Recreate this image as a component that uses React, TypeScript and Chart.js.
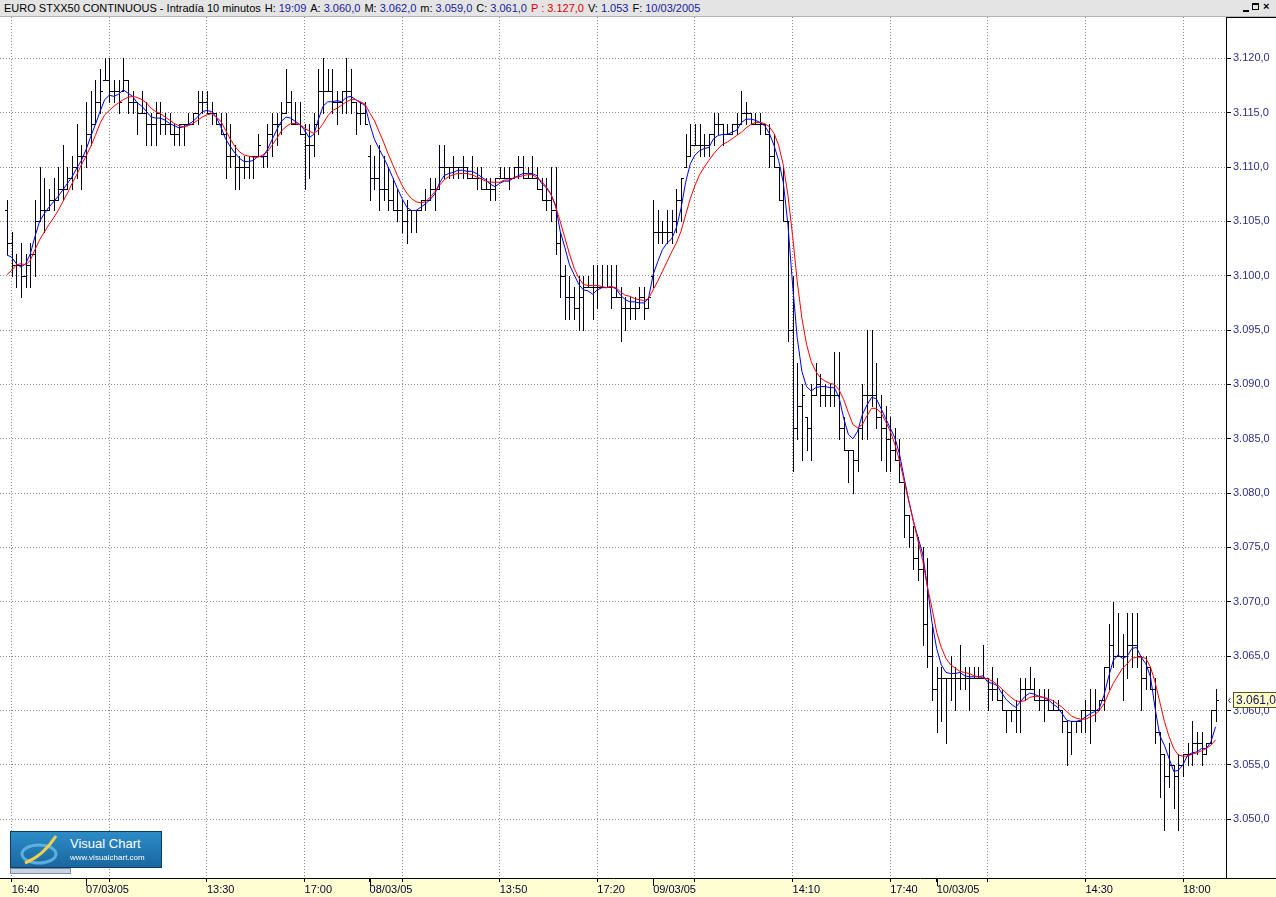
import React, { useEffect, useRef } from 'react';
import { Chart, registerables } from 'chart.js';

Chart.register(...registerables);

// ---------- DATA (10-minute bars, EURO STXX50, 04/03 16:30 -> 10/03 19:10) ----------
const highs = [
  3107,3104,3102,3103,3102,3103,3107,3110,3109,3108,
  3109,3110,3112,3110,3111,3114,3112,3116,3117,3118,
  3119,3120,3120,3118,3118,3120,3118,3117,3116,3117,
  3116,3115,3116,3116,3115,3115,3114,3114,3114,3115,
  3115,3117,3117,3117,3116,3115,3115,3115,3114,3112,
  3111,3111,3111,3111,3113,3111,3114,3115,3115,3116,
  3119,3117,3116,3116,3114,3114,3115,3119,3120,3119,
  3119,3117,3117,3120,3119,3116,3116,3116,3112,3111,
  3112,3111,3110,3109,3108,3107,3107,3106,3106,3107,
  3108,3109,3109,3112,3112,3110,3111,3110,3111,3110,
  3111,3110,3110,3109,3109,3109,3110,3110,3110,3110,
  3111,3111,3110,3111,3110,3109,3109,3110,3110,3104,
  3101,3100,3099,3100,3100,3100,3101,3101,3101,3101,
  3101,3101,3099,3098,3098,3098,3099,3099,3098,3107,
  3106,3105,3106,3106,3108,3109,3113,3114,3114,3114,
  3113,3113,3115,3115,3114,3114,3114,3115,3117,3116,
  3115,3115,3115,3114,3114,3113,3110,3110,3105,3100,
  3092,3090,3087,3090,3092,3091,3090,3090,3093,3093,
  3087,3084,3084,3086,3090,3095,3095,3092,3089,3088,
  3087,3086,3085,3081,3078,3077,3076,3075,3074,3068,
  3064,3064,3063,3065,3064,3066,3064,3064,3064,3064,
  3066,3063,3064,3063,3062,3060,3060,3061,3063,3063,
  3064,3063,3062,3062,3062,3061,3061,3060,3059,3059,
  3059,3060,3061,3062,3062,3061,3064,3068,3070,3069,
  3067,3069,3069,3069,3065,3065,3064,3063,3058,3056,
  3057,3055,3056,3056,3057,3059,3058,3058,3057,3060,
  3062,
];

const lows = [
  3102,3100,3099,3098,3099,3099,3100,3105,3104,3106,
  3106,3107,3107,3108,3108,3109,3108,3110,3112,3114,
  3115,3118,3116,3116,3115,3117,3115,3115,3113,3115,
  3112,3112,3112,3113,3113,3113,3112,3112,3112,3114,
  3114,3114,3115,3115,3114,3114,3113,3109,3110,3108,
  3108,3109,3109,3109,3111,3110,3110,3111,3112,3113,
  3115,3114,3114,3113,3108,3109,3111,3113,3115,3117,
  3115,3114,3115,3115,3115,3113,3114,3114,3107,3108,
  3106,3107,3106,3106,3105,3104,3103,3104,3104,3106,
  3106,3107,3106,3108,3109,3109,3109,3109,3109,3109,
  3109,3108,3108,3108,3107,3107,3109,3109,3108,3109,
  3109,3109,3109,3109,3108,3107,3106,3105,3102,3098,
  3096,3096,3096,3095,3095,3099,3096,3097,3099,3099,
  3097,3098,3094,3095,3096,3096,3097,3096,3097,3099,
  3103,3103,3103,3103,3104,3105,3110,3111,3112,3111,
  3111,3111,3112,3113,3112,3113,3113,3113,3114,3114,
  3114,3114,3113,3113,3110,3110,3107,3105,3094,3082,
  3085,3083,3084,3083,3089,3088,3088,3088,3088,3085,
  3084,3081,3080,3082,3085,3085,3088,3086,3083,3082,
  3082,3083,3081,3076,3075,3073,3072,3066,3064,3061,
  3058,3059,3057,3061,3060,3062,3062,3060,3063,3063,
  3063,3060,3061,3061,3060,3058,3059,3058,3058,3061,
  3062,3061,3060,3059,3060,3060,3060,3058,3055,3056,
  3058,3058,3058,3057,3059,3060,3060,3062,3064,3065,
  3061,3063,3064,3064,3060,3062,3062,3057,3052,3049,
  3053,3051,3049,3054,3055,3055,3056,3055,3056,3057,
  3059,
];

const opens = [
  3106,3103,3101,3101,3100,3101,3102,3105,3106,3106,
  3107,3107,3108,3108,3109,3110,3111,3111,3113,3114,
  3116,3118,3118,3117,3117,3117,3118,3116,3116,3115,
  3115,3114,3114,3115,3114,3114,3113,3113,3114,3114,
  3114,3115,3116,3116,3115,3115,3114,3113,3111,3111,
  3110,3110,3110,3111,3111,3111,3111,3113,3114,3114,
  3115,3116,3114,3114,3113,3112,3112,3114,3117,3117,
  3117,3116,3116,3117,3117,3116,3115,3115,3111,3109,
  3109,3108,3108,3107,3106,3106,3105,3106,3106,3106,
  3107,3107,3108,3108,3110,3110,3110,3110,3110,3110,
  3109,3109,3109,3108,3108,3108,3109,3109,3109,3109,
  3110,3110,3109,3109,3109,3108,3107,3107,3106,3103,
  3100,3098,3098,3097,3098,3099,3099,3099,3099,3099,
  3099,3098,3098,3097,3097,3097,3097,3098,3097,3100,
  3104,3104,3104,3104,3105,3107,3110,3111,3112,3112,
  3112,3112,3113,3114,3114,3113,3113,3114,3114,3115,
  3115,3114,3114,3114,3113,3111,3110,3107,3105,3095,
  3086,3088,3087,3086,3089,3090,3089,3089,3089,3089,
  3086,3084,3084,3083,3086,3089,3089,3089,3087,3086,
  3085,3084,3083,3081,3078,3076,3074,3073,3068,3065,
  3062,3063,3063,3063,3063,3063,3063,3063,3063,3063,
  3063,3063,3062,3062,3061,3060,3060,3060,3060,3062,
  3062,3062,3061,3061,3061,3060,3060,3060,3059,3058,
  3059,3059,3060,3060,3060,3060,3061,3064,3066,3065,
  3065,3065,3066,3066,3065,3063,3064,3062,3058,3056,
  3054,3055,3054,3055,3056,3056,3057,3057,3056,3057,
  3060,
];

const closes = [
  3103,3101,3101,3100,3101,3102,3105,3106,3106,3107,
  3107,3108,3108,3109,3110,3111,3111,3113,3114,3116,
  3117,3118,3117,3117,3116,3118,3116,3116,3115,3115,
  3114,3114,3115,3114,3114,3113,3113,3114,3114,3114,
  3115,3116,3116,3115,3115,3114,3113,3111,3111,3110,
  3110,3110,3111,3111,3112,3111,3113,3114,3114,3115,
  3116,3114,3114,3113,3112,3112,3114,3117,3117,3117,
  3116,3116,3117,3117,3116,3115,3115,3114,3109,3109,
  3108,3108,3107,3106,3106,3105,3106,3106,3106,3107,
  3107,3108,3108,3110,3110,3110,3110,3110,3110,3109,
  3109,3109,3108,3108,3108,3109,3109,3109,3109,3110,
  3110,3109,3109,3109,3108,3107,3107,3106,3103,3100,
  3098,3098,3097,3098,3099,3099,3099,3099,3099,3099,
  3098,3098,3097,3097,3097,3097,3098,3097,3098,3104,
  3104,3104,3104,3105,3107,3109,3111,3112,3112,3112,
  3112,3113,3114,3114,3113,3113,3114,3114,3115,3115,
  3114,3114,3114,3113,3111,3110,3107,3105,3095,3086,
  3088,3089,3086,3089,3090,3089,3089,3089,3089,3086,
  3084,3084,3083,3086,3089,3089,3089,3087,3086,3085,
  3084,3083,3081,3078,3076,3074,3073,3068,3065,3062,
  3063,3063,3063,3063,3063,3063,3063,3063,3063,3063,
  3063,3062,3062,3061,3060,3060,3060,3060,3062,3062,
  3062,3061,3061,3061,3060,3060,3060,3059,3058,3059,
  3059,3060,3060,3060,3060,3061,3064,3066,3065,3065,
  3065,3066,3066,3065,3063,3064,3062,3058,3056,3054,
  3055,3054,3055,3056,3056,3057,3057,3056,3057,3060,
  3061,
];

// blue moving average
const maFast = [
  3101.9,3101.7,3101.1,3100.8,3101.1,3102.0,3103.6,3105.0,3105.7,3106.3,
  3106.8,3107.3,3107.9,3108.5,3109.1,3109.9,3110.6,3111.6,3112.8,3113.9,
  3115.1,3116.2,3116.6,3116.5,3116.7,3117.1,3116.8,3116.5,3115.9,3115.6,
  3115.1,3114.6,3114.5,3114.5,3114.3,3114.0,3113.8,3113.6,3113.7,3113.9,
  3114.2,3114.6,3115.1,3115.2,3115.1,3114.6,3113.7,3112.6,3111.9,3111.3,
  3110.8,3110.5,3110.5,3110.6,3111.0,3110.9,3111.6,3112.5,3113.4,3114.2,
  3114.6,3114.5,3114.2,3113.9,3113.4,3112.7,3113.0,3114.4,3115.6,3116.0,
  3116.0,3116.1,3116.0,3116.4,3116.5,3116.2,3115.9,3115.7,3114.0,3112.6,
  3111.7,3110.9,3110.0,3109.0,3108.0,3107.1,3106.3,3106.0,3106.0,3106.3,
  3106.6,3107.0,3107.5,3108.5,3109.2,3109.4,3109.5,3109.7,3109.7,3109.6,
  3109.6,3109.4,3109.1,3108.8,3108.4,3108.2,3108.5,3108.7,3108.7,3109.0,
  3109.2,3109.4,3109.4,3109.4,3109.2,3108.5,3108.1,3107.5,3106.5,3104.1,
  3102.6,3101.0,3100.1,3099.2,3098.7,3098.6,3098.3,3098.7,3098.9,3098.9,
  3099.0,3098.8,3098.2,3097.8,3097.6,3097.6,3097.5,3097.5,3097.9,3100.1,
  3101.3,3102.4,3103.0,3103.4,3104.4,3106.2,3108.6,3110.3,3111.1,3111.5,
  3111.7,3111.8,3112.6,3112.9,3113.0,3113.0,3113.2,3113.4,3114.1,3114.4,
  3114.4,3114.3,3114.1,3113.8,3113.1,3112.0,3110.6,3108.6,3104.7,3099.2,
  3094.3,3091.2,3089.8,3089.4,3089.7,3089.8,3089.8,3089.7,3089.7,3088.8,
  3086.9,3085.4,3085.0,3085.7,3087.2,3088.1,3088.8,3088.7,3087.8,3086.9,
  3086.0,3085.1,3083.6,3081.4,3079.3,3077.4,3075.9,3074.4,3071.4,3068.1,
  3065.7,3064.2,3063.5,3063.4,3063.4,3063.5,3063.2,3063.1,3063.1,3063.1,
  3063.2,3062.6,3062.5,3062.3,3061.6,3061.0,3060.6,3060.3,3060.8,3061.3,
  3061.6,3061.5,3061.3,3061.2,3061.0,3060.6,3060.3,3059.7,3059.1,3059.0,
  3059.0,3059.1,3059.4,3059.7,3059.9,3060.2,3061.4,3063.1,3064.6,3065.1,
  3064.8,3065.0,3065.7,3065.8,3064.9,3064.3,3063.1,3060.2,3057.7,3056.8,
  3055.6,3054.4,3054.5,3055.0,3055.9,3056.1,3056.2,3056.5,3056.5,3057.1,
  3058.5,
];

// red moving average
const maSlow = [
  3100.1,3100.5,3101.0,3101.1,3101.0,3101.4,3102.4,3103.3,3104.0,3104.7,
  3105.3,3106.0,3106.8,3107.6,3108.5,3109.3,3110.2,3111.0,3111.9,3112.9,
  3114.0,3114.8,3115.2,3115.6,3115.9,3116.2,3116.4,3116.5,3116.4,3116.2,
  3115.9,3115.4,3115.1,3114.9,3114.6,3114.3,3114.0,3113.8,3113.7,3113.8,
  3114.0,3114.3,3114.6,3114.8,3114.9,3114.6,3114.2,3113.4,3112.6,3111.9,
  3111.4,3111.1,3111.0,3110.9,3110.9,3111.1,3111.4,3112.0,3112.6,3113.3,
  3113.7,3114.0,3114.0,3113.9,3113.6,3113.3,3113.1,3113.4,3114.0,3114.7,
  3115.2,3115.4,3115.7,3116.0,3116.2,3116.2,3116.0,3115.8,3115.0,3114.3,
  3113.3,3112.3,3111.2,3110.2,3109.2,3108.3,3107.6,3107.1,3106.8,3106.7,
  3106.8,3107.2,3107.7,3108.3,3108.8,3109.1,3109.3,3109.4,3109.4,3109.4,
  3109.3,3109.1,3108.9,3108.7,3108.6,3108.6,3108.6,3108.8,3108.8,3109.0,
  3109.1,3109.2,3109.3,3109.3,3109.0,3108.7,3108.2,3107.5,3106.4,3105.0,
  3103.5,3102.0,3100.7,3099.8,3099.2,3099.1,3099.1,3099.1,3099.0,3098.9,
  3099.0,3098.9,3098.5,3098.2,3098.1,3097.9,3097.8,3097.7,3097.9,3098.7,
  3099.5,3100.4,3101.3,3102.2,3103.0,3104.1,3105.6,3107.1,3108.3,3109.3,
  3110.0,3110.6,3111.2,3111.7,3112.1,3112.3,3112.6,3112.9,3113.2,3113.6,
  3113.9,3114.1,3114.1,3114.0,3113.7,3113.1,3112.0,3110.2,3107.4,3103.7,
  3099.5,3096.1,3093.7,3092.1,3091.2,3090.6,3090.3,3090.1,3090.0,3089.5,
  3088.6,3087.4,3086.3,3086.0,3086.3,3087.1,3087.8,3087.8,3087.4,3086.6,
  3085.7,3084.5,3083.0,3081.1,3079.3,3077.4,3075.6,3073.8,3071.4,3069.4,
  3067.2,3065.8,3064.8,3064.2,3063.9,3063.6,3063.5,3063.4,3063.2,3063.1,
  3063.0,3062.9,3062.7,3062.4,3062.0,3061.6,3061.2,3060.9,3060.8,3060.9,
  3061.2,3061.3,3061.3,3061.2,3061.1,3060.9,3060.6,3060.3,3059.9,3059.5,
  3059.3,3059.2,3059.2,3059.4,3059.6,3060.0,3060.6,3061.6,3062.5,3063.2,
  3063.9,3064.3,3064.8,3064.9,3064.9,3064.8,3064.0,3062.6,3060.8,3059.0,
  3057.6,3056.5,3055.9,3055.8,3055.8,3056.0,3056.1,3056.3,3056.5,3056.8,
  3057.3,
];

// x axis: bar index of each tick, and its label
const xTickValues = [1, 17, 22, 43, 64, 78, 85, 106, 127, 139, 148, 169, 190, 200, 211, 232, 253];
const xTickLabels = ['16:40', '07/03/05', '', '13:30', '17:00', '08/03/05', '', '13:50', '17:20', '09/03/05', '', '14:10', '17:40', '10/03/05', '', '14:30', '18:00'];
const dayStarts = [17, 78, 139, 200];

const priceTicks = [3050, 3055, 3060, 3065, 3070, 3075, 3080, 3085, 3090, 3095, 3100, 3105, 3110, 3115, 3120];

const headerTitle = 'EURO STXX50 CONTINUOUS - Intradía 10 minutos';
const headerKeys = ['H:', 'A:', 'M:', 'm:', 'C:', 'P :', 'V:', 'F:'];
const headerValues = ['19:09', '3.060,0', '3.062,0', '3.059,0', '3.061,0', '3.127,0', '1.053', '10/03/2005'];

const X_MIN = -1.517;
const X_MAX = 262.25;
const Y_MIN = 3044.59;
const Y_MAX = 3123.8;

const FONT = "'Liberation Sans', Arial, sans-serif";

const fmtPrice = (v: number) => {
  const [intPart, dec] = Number(v).toFixed(1).split('.');
  return intPart.replace(/\B(?=(\d{3})+(?!\d))/g, '.') + ',' + dec;
};

const backgroundPlugin = {
  id: 'bg',
  beforeDraw(chart: any) {
    const { ctx, chartArea, width, height } = chart;
    ctx.save();
    ctx.fillStyle = '#ffffff';
    ctx.fillRect(0, 0, width, height);
    ctx.fillStyle = '#ffffd2';
    ctx.fillRect(0, chartArea.bottom + 1, width, height - chartArea.bottom - 1);
    ctx.restore();
  },
};

const ohlcPlugin = {
  id: 'ohlc',
  beforeDatasetsDraw(chart: any) {
    const { ctx, chartArea, scales } = chart;
    const xs = scales.x;
    const ys = scales.y;
    ctx.save();
    ctx.beginPath();
    ctx.rect(chartArea.left, chartArea.top, chartArea.right - chartArea.left, chartArea.bottom - chartArea.top);
    ctx.clip();
    ctx.strokeStyle = '#000014';
    ctx.lineWidth = 1;
    ctx.beginPath();
    for (let i = 0; i < highs.length; i++) {
      const cx = Math.round(xs.getPixelForValue(i));
      const px = cx + 0.5;
      const yh = Math.round(ys.getPixelForValue(highs[i]));
      const yl = Math.round(ys.getPixelForValue(lows[i]));
      ctx.moveTo(px, yh);
      ctx.lineTo(px, yl + 1);
      const yo = Math.round(ys.getPixelForValue(opens[i])) + 0.5;
      ctx.moveTo(cx - 2, yo);
      ctx.lineTo(cx, yo);
      const yc = Math.round(ys.getPixelForValue(closes[i])) + 0.5;
      ctx.moveTo(cx + 1, yc);
      ctx.lineTo(cx + 3, yc);
    }
    ctx.stroke();
    ctx.restore();
  },
};

const overlayPlugin = {
  id: 'overlay',
  afterDraw(chart: any) {
    const { ctx, chartArea, scales, width } = chart;
    const xs = scales.x;
    const ys = scales.y;
    ctx.save();
    ctx.strokeStyle = '#000';
    ctx.lineWidth = 1;
    ctx.beginPath();
    // axis line continues under the price column
    ctx.moveTo(chartArea.right, chartArea.bottom + 0.5);
    ctx.lineTo(width, chartArea.bottom + 0.5);
    // top edge of price column
    ctx.moveTo(chartArea.right, chartArea.top + 0.5);
    ctx.lineTo(width, chartArea.top + 0.5);
    // longer ticks at each day start
    dayStarts.forEach((d) => {
      const px = Math.round(xs.getPixelForValue(d)) + 0.5;
      ctx.moveTo(px, chartArea.bottom);
      ctx.lineTo(px, chartArea.bottom + 8);
    });
    ctx.stroke();

    // last price tag
    const last = closes[closes.length - 1];
    const yv = Math.round(ys.getPixelForValue(last));
    const left = Math.round(chartArea.right) + 7;
    ctx.fillStyle = '#ffffc4';
    ctx.fillRect(left, yv - 8, width - left, 16);
    ctx.strokeStyle = '#555522';
    ctx.strokeRect(left + 0.5, yv - 7.5, width - left, 15);
    ctx.fillStyle = '#10106a';
    ctx.font = `12px ${FONT}`;
    ctx.textBaseline = 'middle';
    ctx.textAlign = 'left';
    ctx.fillText(fmtPrice(last), left + 3, yv + 0.5);
    ctx.strokeStyle = '#10106a';
    ctx.beginPath();
    ctx.moveTo(left - 2.5, yv - 2);
    ctx.lineTo(left - 4.5, yv + 0.5);
    ctx.lineTo(left - 2.5, yv + 3);
    ctx.stroke();
    ctx.restore();
  },
};

function PriceChart() {
  const ref = useRef<HTMLCanvasElement | null>(null);

  useEffect(() => {
    if (!ref.current) return;
    const chart = new Chart(ref.current, {
      type: 'line',
      data: {
        datasets: [
          {
            label: 'Media lenta',
            data: maSlow.map((v, i) => ({ x: i, y: v })),
            borderColor: '#ff0000',
            borderWidth: 1,
            pointRadius: 0,
            tension: 0,
            fill: false,
          },
          {
            label: 'Media rápida',
            data: maFast.map((v, i) => ({ x: i, y: v })),
            borderColor: '#0000ee',
            borderWidth: 1,
            pointRadius: 0,
            tension: 0,
            fill: false,
          },
        ],
      },
      options: {
        responsive: false,
        animation: false,
        events: [],
        layout: { padding: { top: 17, left: 0, right: 0, bottom: 0 } },
        plugins: { legend: { display: false }, tooltip: { enabled: false } },
        scales: {
          x: {
            type: 'linear',
            position: 'bottom',
            min: X_MIN,
            max: X_MAX,
            afterFit: (s: any) => { s.height = 19; },
            afterBuildTicks: (s: any) => { s.ticks = xTickValues.map((v) => ({ value: v })); },
            grid: {
              color: (c: any) => (c.tick && dayStarts.includes(c.tick.value) ? 'rgba(0,0,0,0)' : '#8a8a8a'),
              lineWidth: 1,
              drawTicks: true,
              tickLength: 4,
              tickColor: '#000',
            },
            border: { display: true, color: '#000', width: 1, dash: [1, 2] },
            ticks: {
              autoSkip: false,
              maxRotation: 0,
              minRotation: 0,
              align: 'start',
              padding: 1,
              color: '#000030',
              font: { family: FONT, size: 11 },
              callback: (v: any) => {
                const k = xTickValues.indexOf(Number(v));
                return k >= 0 ? xTickLabels[k] : '';
              },
            },
          },
          y: {
            type: 'linear',
            position: 'right',
            min: Y_MIN,
            max: Y_MAX,
            afterFit: (s: any) => { s.width = 50; },
            afterBuildTicks: (s: any) => { s.ticks = priceTicks.map((v) => ({ value: v })); },
            grid: { color: '#8a8a8a', lineWidth: 1, drawTicks: true, tickLength: 5, tickColor: '#000' },
            border: { display: true, color: '#000', width: 1, dash: [1, 2] },
            ticks: {
              padding: 2,
              color: '#2e2e8a',
              font: { family: FONT, size: 11 },
              callback: (v: any) => fmtPrice(Number(v)),
            },
          },
        },
      } as any,
      plugins: [backgroundPlugin, ohlcPlugin, overlayPlugin],
    });
    return () => chart.destroy();
  }, []);

  return <canvas ref={ref} width={1276} height={897} style={{ position: 'absolute', left: 0, top: 0 }} />;
}

export default function App() {
  return (
    <div style={{ position: 'fixed', left: 0, top: 0, width: 1276, height: 897, background: '#fff', overflow: 'hidden' }}>
      <PriceChart />
      {/* title bar */}
      <div
        style={{
          position: 'absolute', left: 0, top: 0, width: 1276, height: 16,
          background: '#e4e4e4', borderBottom: '1px solid #b4b4b4',
          font: `11px ${FONT}`, lineHeight: '16px', whiteSpace: 'nowrap', color: '#000',
        }}
      >
        <span style={{ position: 'absolute', left: 4, top: 0 }}>
          {headerTitle}
          {headerKeys.map((k, i) => (
            <span key={k}>
              <span style={{ color: k.startsWith('P') ? '#e00000' : '#000', marginLeft: 4 }}>{k}</span>
              <span style={{ color: k.startsWith('P') ? '#e00000' : '#1a1a9a', marginLeft: 3 }}>{headerValues[i]}</span>
            </span>
          ))}
        </span>
        <span style={{ position: 'absolute', left: 1243, top: 10, width: 6, height: 2, background: '#000' }} />
        <span style={{ position: 'absolute', left: 1252, top: 3, width: 7, height: 7, border: '1px solid #000', borderTopWidth: 2, boxSizing: 'border-box' }} />
        <span style={{ position: 'absolute', left: 1263, top: 0, font: `bold 11px ${FONT}` }}>×</span>
      </div>
      {/* logo */}
      <div
        style={{
          position: 'absolute', left: 10, top: 831, width: 152, height: 37, boxSizing: 'border-box',
          border: '1px solid #0b3c66', background: 'linear-gradient(#2d8cc8, #1a679f)',
        }}
      >
        <svg width="52" height="35" style={{ position: 'absolute', left: 2, top: 0 }}>
          <ellipse cx="26" cy="22" rx="17" ry="9" fill="none" stroke="#69b8e8" strokeWidth="3" opacity="0.85" />
          <path d="M12 31 Q 30 24 43 4" stroke="#f2d24a" strokeWidth="3" fill="none" />
        </svg>
        <span style={{ position: 'absolute', left: 59, top: 4, color: '#fff', font: `13px ${FONT}` }}>Visual Chart</span>
        <span style={{ position: 'absolute', left: 59, top: 21, color: '#fff', font: `8px ${FONT}` }}>www.visualchart.com</span>
      </div>
      <div
        style={{
          position: 'absolute', left: 10, top: 868, width: 61, height: 6, boxSizing: 'border-box',
          background: '#c9d3e6', border: '1px solid #7d8aa5',
        }}
      />
    </div>
  );
}
